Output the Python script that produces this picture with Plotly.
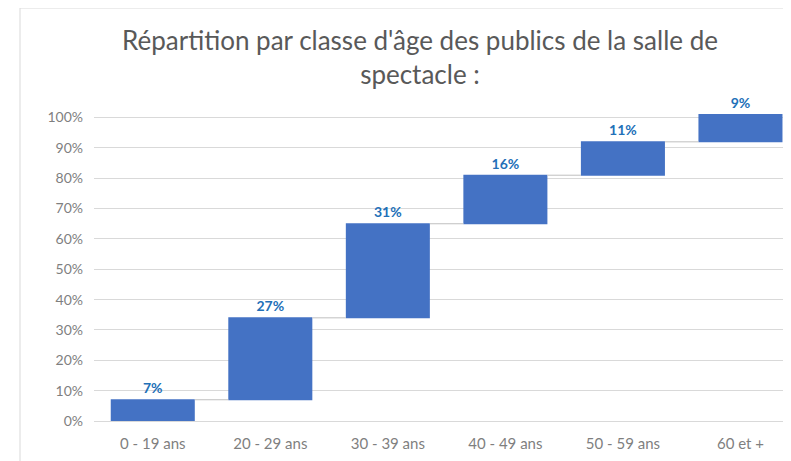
import plotly.graph_objects as go

# ── Data ─────────────────────────────────────────────────────────────────────
categories = ["0 - 19 ans", "20 - 29 ans", "30 - 39 ans", "40 - 49 ans", "50 - 59 ans", "60 et +"]
shares = [7, 27, 31, 16, 11, 9]  # % of the audience per age class
y_ticks = [0, 10, 20, 30, 40, 50, 60, 70, 80, 90, 100]

TITLE = "Répartition par classe d'âge des publics de la salle de<br>spectacle :"
BAR = "#4472C4"
LABEL = "#2270B8"
GREY = "#595959"
TICK = "#7F7F7F"
GRID = "#D9D9D9"

# page body has an 8px margin -> figure pixels = screen pixels - 8
# wanted plot area on screen: x 94..791, y 113..421
fig = go.Figure(go.Waterfall(
    x=categories,
    y=shares,
    measure=["relative"] * len(shares),
    text=[f"{v}%" for v in shares],
    textposition="outside",
    textfont=dict(family="Lato, sans-serif", size=14, color=LABEL, weight="bold"),
    increasing=dict(marker=dict(color=BAR, line=dict(width=0))),
    connector=dict(line=dict(color="#BFBFBF", width=1)),
    hoverinfo="skip",
    cliponaxis=False,
))

fig.update_layout(
    width=791, height=461,
    margin=dict(l=86, r=8, t=105, b=48),
    paper_bgcolor="white", plot_bgcolor="white",
    font=dict(family="Lato, sans-serif", color=TICK, size=14),
    showlegend=False,
    waterfallgap=0.285,
    annotations=[dict(
        text=TITLE, xref="paper", yref="paper",
        x=(420 - 94) / 697, y=(421 - 57) / 308,
        xanchor="center", yanchor="middle", showarrow=False,
        font=dict(family="Lato, sans-serif", size=26, color=GREY),
    )],
    shapes=[dict(
        type="rect", xref="paper", yref="paper",
        x0=(20 - 94) / 697, x1=1.2, y0=-0.5, y1=(421 - 8) / 308,
        line=dict(color=GRID, width=1), fillcolor="rgba(0,0,0,0)", layer="below",
    )],
    xaxis=dict(range=[-0.5, 5.43], showgrid=False, showline=False,
               ticks="", ticklabelstandoff=12, tickfont=dict(size=15, color=TICK)),
    yaxis=dict(range=[0, 101.5], tickvals=y_ticks,
               ticktext=[f"{t}%" for t in y_ticks],
               showgrid=True, gridcolor=GRID, gridwidth=1,
               zeroline=True, zerolinecolor=GRID, zerolinewidth=1,
               showline=False, ticks="", ticklabelstandoff=10,
               tickfont=dict(size=14, color=TICK)),
)

fig.write_html("out.html")
